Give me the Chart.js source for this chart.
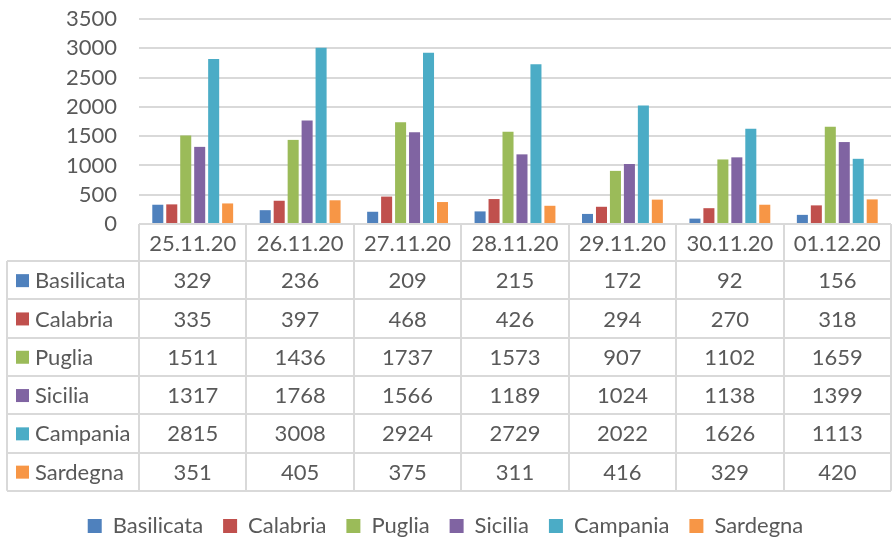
<!DOCTYPE html>
<html>
<head>
<meta charset="utf-8">
<script src="https://cdn.jsdelivr.net/npm/chart.js@4"></script>
<style>
  html, body { margin: 0; padding: 0; background: #fff; }
  #grafico { display: block; }
</style>
</head>
<body>
<canvas id="grafico" width="893" height="541"></canvas>
<script>
// Dati
const categorie = ['25.11.20', '26.11.20', '27.11.20', '28.11.20', '29.11.20', '30.11.20', '01.12.20'];
const basilicata = [329, 236, 209, 215, 172, 92, 156];
const calabria = [335, 397, 468, 426, 294, 270, 318];
const puglia = [1511, 1436, 1737, 1573, 907, 1102, 1659];
const sicilia = [1317, 1768, 1566, 1189, 1024, 1138, 1399];
const campania = [2815, 3008, 2924, 2729, 2022, 1626, 1113];
const sardegna = [351, 405, 375, 311, 416, 329, 420];
const yMin = 0, yMax = 3500, yStep = 500;

const grigioTesto = '#595959';
const grigioLinee = '#d9d9d9';
const fonte = 'Lato';
const dimFonte = 22;

Chart.defaults.font.family = fonte;
Chart.defaults.font.size = dimFonte;
Chart.defaults.color = grigioTesto;

// Tabella dati sotto il grafico (come in Excel)
const tabellaDati = {
  id: 'tabellaDati',
  afterDraw(chart) {
    const { ctx, chartArea, scales: { x } } = chart;
    const serie = chart.data.datasets;
    const top = chartArea.bottom;
    const altTesta = 37, altRiga = 38.3, sinistra = 7;
    const fondo = top + altTesta + altRiga * serie.length;
    const larg = (chartArea.right - chartArea.left) / chart.data.labels.length;

    ctx.save();
    ctx.strokeStyle = grigioLinee;
    ctx.lineWidth = 2;
    const linea = (x1, y1, x2, y2) => {
      ctx.beginPath(); ctx.moveTo(x1, y1); ctx.lineTo(x2, y2); ctx.stroke();
    };
    linea(chartArea.left, top, chartArea.right, top);
    for (let i = 0; i <= serie.length; i++) {
      const y = Math.round(top + altTesta + i * altRiga);
      linea(sinistra, y, chartArea.right, y);
    }
    for (let i = 0; i <= chart.data.labels.length; i++) {
      const xx = Math.round(chartArea.left + i * larg);
      linea(xx, top, xx, fondo);
    }
    linea(sinistra, top + altTesta, sinistra, fondo);

    ctx.font = dimFonte + 'px ' + fonte;
    ctx.fillStyle = grigioTesto;
    ctx.textBaseline = 'middle';
    ctx.textAlign = 'center';
    chart.data.labels.forEach((c, i) => {
      ctx.fillText(c, x.getPixelForValue(i), top + altTesta / 2 + 1);
    });
    serie.forEach((s, r) => {
      const cy = top + altTesta + altRiga * (r + 0.5);
      ctx.fillStyle = s.backgroundColor;
      ctx.fillRect(16, cy - 6, 13, 13);
      ctx.fillStyle = grigioTesto;
      ctx.textAlign = 'left';
      ctx.fillText(s.label, 35, cy + 1);
      ctx.textAlign = 'center';
      s.data.forEach((v, i) => ctx.fillText(String(v), x.getPixelForValue(i), cy + 1));
    });
    ctx.restore();
  }
};

new Chart(document.getElementById('grafico'), {
  type: 'bar',
  data: {
    labels: categorie,
    datasets: [
      { label: 'Basilicata', data: basilicata, backgroundColor: '#4f81bd' },
      { label: 'Calabria', data: calabria, backgroundColor: '#c0504d' },
      { label: 'Puglia', data: puglia, backgroundColor: '#9bbb59' },
      { label: 'Sicilia', data: sicilia, backgroundColor: '#8064a2' },
      { label: 'Campania', data: campania, backgroundColor: '#4bacc6' },
      { label: 'Sardegna', data: sardegna, backgroundColor: '#f79646' }
    ]
  },
  options: {
    responsive: false,
    animation: false,
    devicePixelRatio: 1,
    layout: { padding: { top: 19, right: 2, bottom: -6, left: 0 } },
    datasets: { bar: { categoryPercentage: 0.78, barPercentage: 0.79 } },
    plugins: {
      tooltip: { enabled: false },
      legend: {
        position: 'bottom',
        labels: { boxWidth: 14, boxHeight: 14, padding: 20, color: grigioTesto }
      }
    },
    scales: {
      x: {
        grid: { display: false },
        border: { display: false },
        ticks: { display: false },
        afterFit(scale) { scale.height = 271; }
      },
      y: {
        min: yMin,
        max: yMax,
        grid: { color: grigioLinee, lineWidth: 2, drawTicks: true, tickLength: 22, tickColor: 'rgba(0,0,0,0)' },
        border: { display: false },
        ticks: { stepSize: yStep, padding: 0, autoSkip: false, color: grigioTesto, callback: v => String(v) },
        afterFit(scale) { scale.width = 139; }
      }
    }
  },
  plugins: [tabellaDati]
});
</script>
</body>
</html>
